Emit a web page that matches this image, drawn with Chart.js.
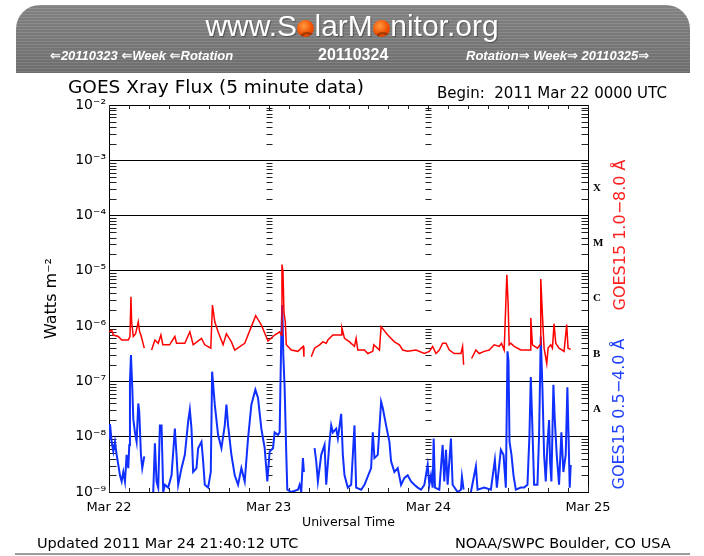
<!DOCTYPE html>
<html>
<head>
<meta charset="utf-8">
<script src="https://cdn.jsdelivr.net/npm/chart.js@4.4.0/dist/chart.umd.min.js"></script>
<style>
  body { margin: 0; background: #fff; }
  #page { position: relative; width: 704px; height: 556px; overflow: hidden; font-family: 'DejaVu Sans', sans-serif; }
  #plot { position: absolute; left: 0; top: 0; }
  .txt { position: absolute; white-space: nowrap; color: #000; }
  #banner {
    position: absolute; left: 16px; top: 5px; width: 674px; height: 68px;
    border-radius: 24px 24px 0 0;
    background:
      repeating-linear-gradient(180deg, rgba(255,255,255,0.07) 0 1px, rgba(0,0,0,0.06) 1px 3px),
      linear-gradient(180deg, #8a8a8a, #747474);
  }
  #site { position: absolute; left: 0; width: 704px; top: 9px; text-align: center; color: #fff;
    font: 30px 'Liberation Sans', Arial, sans-serif; text-shadow: 1px 1px 1px rgba(0,0,0,0.35); }
  .sun { display: inline-block; width: 0.56em; height: 0.56em; border-radius: 50%; color: transparent;
    overflow: hidden; vertical-align: -0.02em; margin: 0 0.01em;
    background: radial-gradient(circle at 40% 35%, #ff9a40, #f05000 55%, #c83000); }
  .nav { position: absolute; top: 48px; color: #fff; font: italic bold 13px 'Liberation Sans', 'DejaVu Sans', sans-serif; }
  .vert { position: absolute; white-space: nowrap; transform: translate(-50%, -50%) rotate(-90deg); font-size: 16px; }
</style>
</head>
<body>
<div id="page">
  <canvas id="plot" width="704" height="556"></canvas>

  <div id="banner"></div>
  <div id="site">www.S<span class="sun">o</span>larM<span class="sun">o</span>nitor.org</div>
  <div class="nav" style="left:50px">⇐20110323 ⇐Week ⇐Rotation</div>
  <div class="nav" style="left:318px;top:46px;font-style:normal;font-size:16px">20110324</div>
  <div class="nav" style="left:466px">Rotation⇒ Week⇒ 20110325⇒</div>

  <div class="txt" style="left:68px;top:76px;font-size:18.5px">GOES Xray Flux (5 minute data)</div>
  <div class="txt" style="left:437px;top:84px;font-size:15px">Begin:&nbsp; 2011 Mar 22 0000 UTC</div>

  <div class="vert" style="left:619px;top:235px;color:#ff2020">GOES15 1.0−8.0 Å</div>
  <div class="vert" style="left:618px;top:414px;color:#2040ff">GOES15 0.5−4.0 Å</div>

  <div class="txt" style="left:37px;top:535px;font-size:14.5px">Updated 2011 Mar 24 21:40:12 UTC</div>
  <div class="txt" style="left:455px;top:535px;font-size:14.5px">NOAA/SWPC Boulder, CO USA</div>
  <div style="position:absolute;left:15px;top:553px;width:675px;height:2px;background:#9c9c9c"></div>
</div>

<script>
// day boundaries (hours from 2011 Mar 22 00:00 UT) and their labels
const dayHours = [0, 24, 48, 72];
const dayLabels = ['Mar 22', 'Mar 23', 'Mar 24', 'Mar 25'];

// left axis decades
const yTickValues = [1e-9, 1e-8, 1e-7, 1e-6, 1e-5, 1e-4, 1e-3, 1e-2];
const yTickLabels = ['10⁻⁹', '10⁻⁸', '10⁻⁷', '10⁻⁶', '10⁻⁵', '10⁻⁴', '10⁻³', '10⁻²'];

// flare classes on the right, at the middle of each decade
const classTicks = [3.16e-8, 3.16e-7, 3.16e-6, 3.16e-5, 3.16e-4];
const classLetters = ['A', 'B', 'C', 'M', 'X'];

// GOES15 1.0-8.0 A (long channel), W m^-2
const redHours = [
  0, 0.4, 0.65, 1.4, 1.9, 2.9, 3.15, 3.3, 3.4, 3.65,
  4.0, 4.4, 4.6, 4.8, 5.3, 5.8, 6.4, 6.9, 7.4, 7.8,
  8.1, 9.1, 9.9, 10.15, 11.4, 12.15, 12.65, 13.9, 14.4, 15.3,
  15.55, 15.9, 16.4, 17.15, 17.65, 18.4, 18.9, 20.4, 21.4, 22.05,
  22.9, 23.9, 24.9, 25.65, 25.9, 26.0, 26.15, 26.3, 26.5, 26.65,
  27.4, 28.4, 28.9, 29.2, 29.3, 29.8, 30.4, 30.9, 31.65, 32.15,
  32.65, 32.9, 33.65, 34.9, 35.0, 35.4, 36.15, 36.9, 37.15, 37.4,
  38.4, 38.9, 39.65, 39.8, 40.65, 40.9, 41.9, 42.9, 43.65, 44.15,
  44.9, 46.15, 47.4, 48.15, 48.65, 49.15, 49.65, 50.15, 50.65, 51.15,
  51.9, 52.9, 53.15, 53.3, 53.9, 54.5, 55.15, 55.65, 56.4, 57.15,
  57.9, 58.65, 59.0, 59.4, 59.8, 60.0, 60.15, 60.4, 60.9, 61.9,
  62.9, 63.3, 63.4, 63.65, 64.4, 64.8, 64.9, 65.15, 65.4, 65.8,
  66.0, 66.4, 66.65, 66.9, 67.15, 67.65, 68.4, 68.8, 69.0, 69.4
];
const redFlux = [
  7.9e-7, 8.5e-7, 6.9e-7, 6.5e-7, 5.6e-7, 5.6e-7, 6.5e-7, 3.4e-6, 1.2e-6, 6.5e-7,
  7.3e-7, 1.2e-6, 7.9e-7, 6.9e-7, 4.0e-7, null, 3.7e-7, 5.6e-7, 4.9e-7, 6.9e-7,
  4.6e-7, 4.6e-7, 6.5e-7, 4.9e-7, 4.9e-7, 7.9e-7, 4.6e-7, 6.0e-7, 4.6e-7, 4.0e-7,
  2.4e-6, 1.2e-6, 7.9e-7, 4.6e-7, 7.3e-7, 5.2e-7, 3.7e-7, 4.9e-7, 9.8e-7, 1.55e-6,
  1.05e-6, 5.4e-7, 6.9e-7, 7.9e-7, 6.9e-7, 1.3e-5, 9.8e-6, 1.8e-6, 1.2e-6, 4.6e-7,
  3.7e-7, 3.5e-7, 4.0e-7, 4.3e-7, 2.8e-7, null, 2.8e-7, 4.0e-7, 4.6e-7, 5.2e-7,
  4.9e-7, 5.6e-7, 6.9e-7, 6.9e-7, 9.3e-7, 6.0e-7, 5.2e-7, 4.3e-7, 6.0e-7, 3.7e-7,
  3.7e-7, 3.2e-7, 3.5e-7, 4.6e-7, 3.7e-7, 9.8e-7, 6.9e-7, 5.2e-7, 4.6e-7, 3.7e-7,
  3.5e-7, 3.7e-7, 3.2e-7, 3.5e-7, 4.3e-7, 3.2e-7, 3.7e-7, 4.9e-7, 4.9e-7, 3.7e-7,
  3.2e-7, 3.2e-7, 4.3e-7, 2.0e-7, null, 2.6e-7, 3.7e-7, 3.2e-7, 3.5e-7, 3.7e-7,
  4.6e-7, 4.3e-7, 4.9e-7, 3.7e-7, 8.5e-6, 2.4e-6, 4.6e-7, 4.9e-7, 4.3e-7, 3.7e-7,
  3.7e-7, 3.7e-7, 1.4e-6, 4.6e-7, 4.0e-7, 4.6e-7, 7.1e-6, 1.6e-6, 4.0e-7, 2.1e-7,
  4.0e-7, 4.6e-7, 4.0e-7, 1.1e-6, 4.9e-7, 4.0e-7, 3.5e-7, 1.07e-6, 4.0e-7, 3.8e-7
];

// GOES15 0.5-4.0 A (short channel), W m^-2
const blueHours = [
  0, 0.15, 0.4, 0.65, 0.9, 1.15, 1.4, 1.65, 1.9, 2.15,
  2.4, 2.65, 2.9, 3.05, 3.15, 3.3, 3.5, 3.65, 3.9, 4.15,
  4.4, 4.55, 4.8, 5.0, 5.3, 5.8, 6.65, 6.9, 7.15, 7.4,
  7.65, 7.9, 8.15, 8.4, 8.9, 9.4, 9.9, 10.15, 10.4, 10.9,
  11.4, 11.9, 12.15, 12.4, 12.65, 13.15, 13.4, 13.9, 14.15, 14.4,
  14.9, 15.3, 15.5, 15.9, 16.4, 16.9, 17.4, 17.65, 17.9, 18.4,
  18.9, 19.4, 19.9, 20.4, 20.9, 21.4, 22.0, 22.4, 22.9, 23.4,
  23.8, 24.15, 24.65, 24.9, 25.4, 25.65, 25.9, 26.05, 26.2, 26.4,
  26.65, 26.8, 27.4, 28.4, 28.65, 28.9, 29.15, 29.3, 29.8, 30.9,
  31.15, 31.4, 31.9, 32.4, 32.65, 33.15, 33.4, 33.65, 34.15, 34.4,
  34.9, 35.15, 35.4, 35.9, 36.4, 36.9, 37.15, 37.9, 38.4, 39.4,
  39.65, 39.9, 40.4, 40.9, 41.15, 41.65, 42.15, 42.4, 42.9, 43.4,
  43.9, 44.4, 44.9, 45.4, 45.9, 46.4, 46.9, 47.4, 47.9, 48.15,
  48.4, 48.65, 48.8, 49.0, 49.65, 50.15, 50.4, 50.65, 50.9, 51.4,
  51.65, 52.4, 52.9, 53.05, 53.3, 53.9, 54.4, 55.15, 55.4, 56.4,
  57.4, 58.0, 58.3, 58.9, 59.3, 59.65, 59.9, 60.05, 60.2, 60.5,
  60.8, 61.15, 61.9, 62.4, 62.9, 63.2, 63.4, 63.6, 63.9, 64.4,
  64.65, 64.9, 65.15, 65.4, 65.65, 65.9, 66.15, 66.3, 66.5, 66.8,
  67.0, 67.3, 67.65, 68.0, 68.3, 68.65, 68.9, 69.05, 69.25, 69.4
];
const blueFlux = [
  9.3e-9, 1.7e-8, 8.1e-9, 5.4e-9, 8.1e-9, 4.7e-9, 3.1e-9, 2.0e-9, 1.55e-9, 2.3e-9,
  1.55e-9, 4.7e-9, 2.7e-9, 7.1e-9, 1.0e-7, 3.0e-7, 7.6e-8, 2.1e-8, 1.2e-8, 8.1e-9,
  4.0e-8, 2.8e-8, 4.7e-9, 2.7e-9, 4.4e-9, null, 1.0e-9, 7.6e-9, 1.55e-9, 1.2e-9,
  1.6e-8, 1.6e-8, 1.0e-9, 1.35e-9, 1.2e-9, 2.0e-9, 1.4e-8, 4.7e-9, 1.35e-9, 2.7e-9,
  4.7e-9, 1.9e-8, 3.1e-8, 1.4e-8, 2.3e-9, 2.7e-9, 6.2e-9, 8.1e-9, 3.6e-9, 1.35e-9,
  1.2e-9, 2.3e-9, 1.5e-7, 3.8e-8, 1.07e-8, 6.2e-9, 1.6e-8, 3.8e-8, 1.6e-8, 4.7e-9,
  2.0e-9, 1.35e-9, 2.7e-9, 1.55e-9, 9.3e-9, 3.8e-8, 7.1e-8, 5.0e-8, 1.4e-8, 6.2e-9,
  1.55e-9, 5.4e-9, 6.2e-9, 1.2e-8, 1.07e-8, 1.2e-8, 6.9e-7, 2.4e-6, 3.0e-7, 7.6e-8,
  4.7e-9, 1.1e-9, 1.0e-9, 1.1e-9, 1.35e-9, 1.0e-9, 4.1e-9, 2.3e-9, null, 6.2e-9,
  3.6e-9, 1.55e-9, 4.7e-9, 7.1e-9, 1.35e-9, 8.1e-9, 1.6e-8, 1.2e-8, 1.4e-8, 9.3e-9,
  2.6e-8, 4.7e-9, 2.0e-9, 1.2e-9, 1.35e-9, 1.6e-8, 1.2e-9, 1.1e-9, 1.35e-9, 2.7e-9,
  1.2e-8, 4.1e-9, 4.7e-9, 4.3e-8, 3.3e-8, 1.6e-8, 8.1e-9, 3.6e-9, 2.3e-9, 2.7e-9,
  1.35e-9, 1.8e-9, 2.0e-9, 1.55e-9, 1.35e-9, 1.2e-9, 1.1e-9, 1.35e-9, 3.1e-9, 1.35e-9,
  2.0e-9, 1.2e-9, 9.3e-9, 1.2e-9, 1.1e-9, 7.1e-9, 1.55e-9, 5.8e-9, 1.35e-9, 9.3e-9,
  1.35e-9, 1.0e-9, 1.1e-9, 1.9e-9, 1.1e-9, null, 1.0e-9, 2.9e-9, 1.1e-9, 1.2e-9,
  1.1e-9, 3.8e-9, 1.2e-9, 5.8e-9, 4.7e-9, 1.2e-9, 3.5e-7, 2.3e-7, 8.1e-9, 4.7e-9,
  2.0e-9, 1.1e-9, 1.2e-9, 1.2e-9, 1.35e-9, 1.07e-8, 1.2e-7, 2.1e-8, 1.35e-9, 1.35e-9,
  1.07e-8, 6.5e-7, 7.6e-8, 4.7e-9, 1.55e-9, 7.1e-9, 2.0e-8, 3.6e-9, 1.55e-9, 8.7e-8,
  2.1e-8, 4.7e-9, 1.35e-9, 1.2e-8, 2.3e-9, 4.7e-9, 7.8e-8, 1.4e-8, 1.2e-9, 3.1e-9
];

const toPoints = (hours, flux) => hours.map((h, i) => ({ x: h, y: flux[i] }));

// inward minor ticks: log minors at edges and day boundaries, 3-hourly on top/bottom
const innerTicks = {
  id: 'innerTicks',
  beforeDatasetsDraw(chart) {
    const { ctx, chartArea: a, scales: { x, y } } = chart;
    ctx.save();
    ctx.strokeStyle = '#222';
    ctx.lineWidth = 1;
    ctx.beginPath();
    for (let n = -9; n < -2; n++) {
      for (let m = 2; m <= 9; m++) {
        const py = Math.round(y.getPixelForValue(m * Math.pow(10, n))) + 0.5;
        dayHours.forEach((h, i) => {
          const px = Math.round(x.getPixelForValue(h)) + 0.5;
          if (i === 0) { ctx.moveTo(px, py); ctx.lineTo(px + 7, py); }
          else if (i === dayHours.length - 1) { ctx.moveTo(px - 7, py); ctx.lineTo(px, py); }
          else { ctx.moveTo(px - 3, py); ctx.lineTo(px + 3, py); }
        });
      }
    }
    for (let h = 0; h <= 72; h += 3) {
      const px = Math.round(x.getPixelForValue(h)) + 0.5;
      const len = h % 24 === 0 ? 6 : 4;
      ctx.moveTo(px, a.top); ctx.lineTo(px, a.top + len);
      ctx.moveTo(px, a.bottom); ctx.lineTo(px, a.bottom - len);
    }
    ctx.stroke();
    ctx.restore();
  }
};

const font = 'DejaVu Sans';

new Chart(document.getElementById('plot'), {
  type: 'line',
  data: {
    datasets: [
      {
        label: 'GOES15 1.0-8.0 A',
        data: toPoints(redHours, redFlux),
        borderColor: '#ff0000',
        borderWidth: 1.5,
        pointRadius: 0,
        spanGaps: false,
        tension: 0
      },
      {
        label: 'GOES15 0.5-4.0 A',
        data: toPoints(blueHours, blueFlux),
        borderColor: '#1030ff',
        borderWidth: 2,
        pointRadius: 0,
        spanGaps: false,
        tension: 0
      }
    ]
  },
  options: {
    responsive: false,
    animation: false,
    devicePixelRatio: 1,
    layout: { padding: { left: 0, top: 105, right: 96, bottom: 0 } },
    plugins: { legend: { display: false }, tooltip: { enabled: false } },
    scales: {
      x: {
        type: 'linear', position: 'bottom', min: 0, max: 72,
        afterBuildTicks: s => { s.ticks = dayHours.map(v => ({ value: v })); },
        afterFit: s => { s.height = 64; },
        ticks: {
          autoSkip: false, maxRotation: 0, padding: 8, color: '#000',
          font: { family: font, size: 13 },
          callback: (v, i) => dayLabels[i]
        },
        grid: { display: false, drawTicks: false },
        border: { display: true, color: '#000', width: 1 },
        title: {
          display: true, text: 'Universal Time', color: '#000',
          font: { family: font, size: 12.5 }, padding: { top: 0, bottom: 26 }
        }
      },
      x2: {
        type: 'linear', position: 'top', min: 0, max: 72,
        afterFit: s => { s.height = 0; },
        ticks: { display: false },
        grid: { display: false, drawTicks: false },
        border: { display: true, color: '#000', width: 1 }
      },
      y: {
        type: 'logarithmic', position: 'left', min: 1e-9, max: 1e-2,
        afterBuildTicks: s => { s.ticks = yTickValues.map(v => ({ value: v })); },
        afterFit: s => { s.width = 109; },
        ticks: {
          autoSkip: false, padding: 3, color: '#000',
          font: { family: font, size: 14 },
          callback: (v, i) => yTickLabels[i]
        },
        grid: { color: '#000', lineWidth: 1, drawTicks: false },
        border: { display: true, color: '#000', width: 1 },
        title: {
          display: true, text: 'Watts m⁻²', color: '#000',
          font: { family: font, size: 16 }, padding: { top: 42, bottom: 0 }
        }
      },
      y2: {
        type: 'logarithmic', position: 'right', min: 1e-9, max: 1e-2,
        afterBuildTicks: s => { s.ticks = classTicks.map(v => ({ value: v })); },
        afterFit: s => { s.width = 20; },
        ticks: {
          autoSkip: false, padding: 5, color: '#000',
          font: { family: "'Liberation Serif', 'DejaVu Serif', serif", size: 11, weight: 'bold' },
          callback: (v, i) => classLetters[i]
        },
        grid: { display: false, drawTicks: false },
        border: { display: true, color: '#000', width: 1 }
      }
    }
  },
  plugins: [innerTicks]
});
</script>
</body>
</html>
